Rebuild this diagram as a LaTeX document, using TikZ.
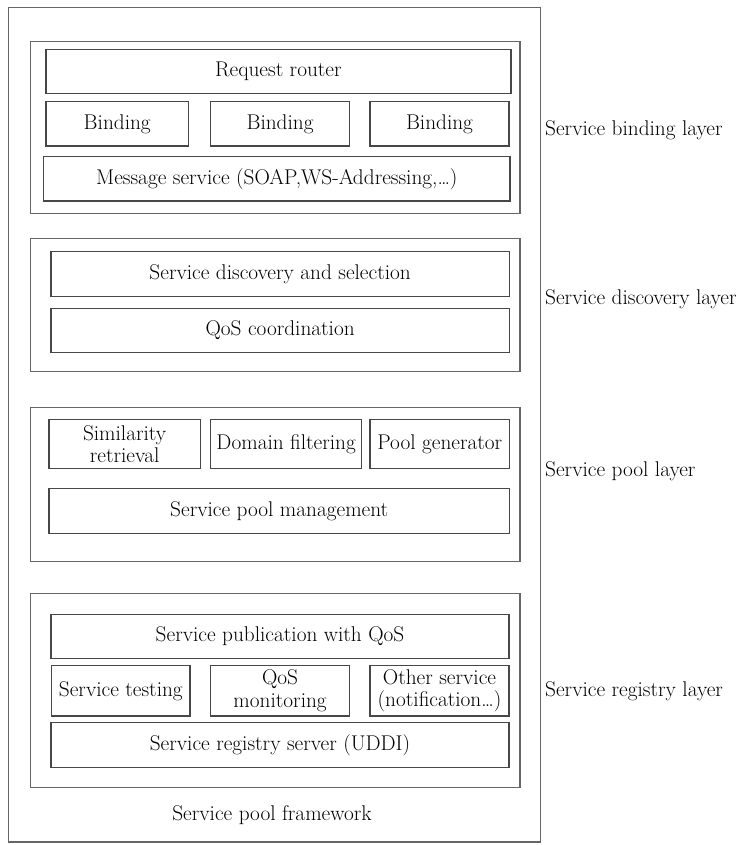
\documentclass[tikz,border=0pt]{standalone}
\usetikzlibrary{positioning}

\begin{document}
\begin{tikzpicture}[
  x=1pt, y=-1pt,
  font=\rmfamily\fontsize{21.3}{22.5}\selectfont,
  frame/.style={rectangle, draw=black!60, line width=1.5pt,
    inner sep=0pt},
  layer/.style={rectangle, draw=black!60, line width=1.5pt,
    minimum width=489.7pt, inner sep=0pt},
  module/.style={rectangle, draw=black!72, line width=1.5pt,
    inner sep=0pt, align=center},
  layername/.style={anchor=west, inner sep=0pt}
]
  \useasboundingbox (0,0) rectangle (741,845);

  % Outer frame
  \node[frame, minimum width=532.2pt, minimum height=834.5pt] (F) at (274.6,424.75) {};
  \node (FW) at (272,815) {Service pool framework};

  % Layers
  \node[layer, minimum height=171.6pt] (LB) at (275.15,127.5) {};
  \node[layer, minimum height=133.4pt] (LD) at (275.15,305)   {};
  \node[layer, minimum height=154.4pt] (LP) at (275.15,484.5) {};
  \node[layer, minimum height=194.4pt] (LR) at (275.15,690.5) {};

  % Service binding layer
  \node[module, minimum width=465.2pt, minimum height=44pt] (RR) at (278.4,71.3) {Request router};
  \foreach \i/\x/\w in {1/117.25/142.9, 2/280.1/138.8, 3/439.5/139} {
    \node[module, minimum width=\w pt, minimum height=44.3pt] (B\i) at (\x,123.85) {Binding};
  }
  \node[module, minimum width=466.3pt, minimum height=44.3pt] (MS) at (276.85,178.85)
    {Message service (SOAP,WS-Addressing,\dots)};

  % Service discovery layer
  \node[module, minimum width=458.3pt, minimum height=45pt] (SD) at (280.15,274.2)
    {Service discovery and selection};
  \node[module, minimum width=458.3pt, minimum height=44.4pt] (QC) at (280.15,330.5)
    {QoS coordination};

  % Service pool layer
  \node[module, minimum width=151.5pt, minimum height=49.2pt] (SR) at (124.65,443.9)
    {Similarity\\retrieval};
  \node[module, minimum width=150.9pt, minimum height=49.2pt] (DF) at (286.15,443.9)
    {Domain filtering};
  \node[module, minimum width=139.6pt, minimum height=49.2pt] (PG) at (439.8,443.9)
    {Pool generator};
  \node[module, minimum width=460.7pt, minimum height=45pt] (PM) at (279.25,510.8)
    {Service pool management};

  % Service registry layer
  \node[module, minimum width=458pt, minimum height=44pt] (SP) at (280,636.3)
    {Service publication with QoS};
  \node[module, minimum width=138.3pt, minimum height=50.3pt] (ST) at (120.85,690.85)
    {Service testing};
  \node[module, minimum width=138.8pt, minimum height=50.3pt] (QM) at (280.1,690.85)
    {QoS\\monitoring};
  \node[module, minimum width=139pt, minimum height=50.3pt] (OS) at (439.5,690.85)
    {Other service\\(notification\dots)};
  \node[module, minimum width=458pt, minimum height=45pt] (RS) at (280,745.2)
    {Service registry server (UDDI)};

  % Layer names
  \node[layername] (NB) at (545,130) {Service binding layer};
  \node[layername] (ND) at (545,299) {Service discovery layer};
  \node[layername] (NP) at (545,471) {Service pool layer};
  \node[layername] (NR) at (545,691) {Service registry layer};
\end{tikzpicture}
\end{document}
